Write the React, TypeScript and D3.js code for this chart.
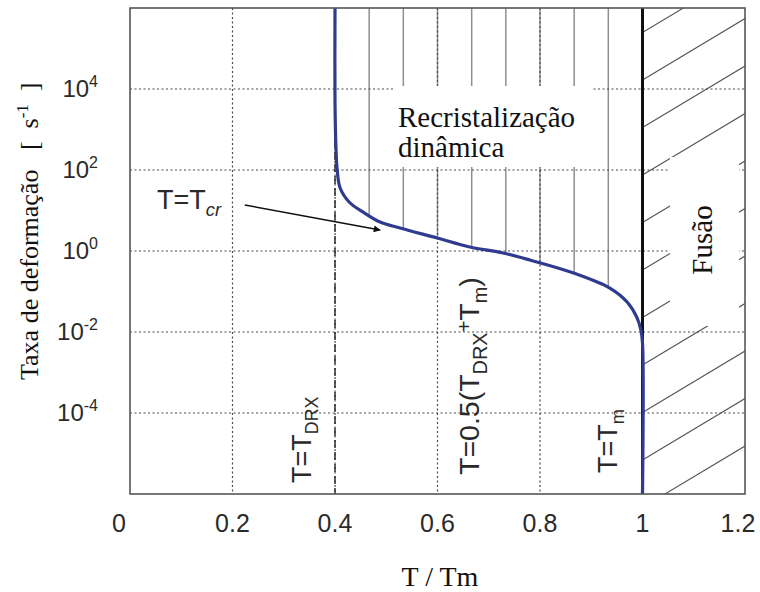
import React, { useEffect, useRef } from "react";
import * as d3 from "d3";

// x axis: T / Tm
const xTicks = [0, 0.2, 0.4, 0.6, 0.8, 1, 1.2];
const xTickLabels = ["0", "0.2", "0.4", "0.6", "0.8", "1", "1.2"];
const xGrid = [0.2, 0.4, 0.6, 0.8];

// y axis: strain rate, log scale
const yTicks = [1e-4, 1e-2, 1e0, 1e2, 1e4];
const yTickExponents = ["-4", "-2", "0", "2", "4"];

// T = Tcr curve
const curveT = [0.4, 0.4, 0.402, 0.404, 0.41, 0.428, 0.455, 0.488, 0.527, 0.599, 0.663, 0.728, 0.78, 0.864, 0.937, 0.97, 0.989, 0.997, 1.0, 1.0];
const curveRate = [1e6, 5000, 320, 110, 36, 16, 9.1, 5.2, 3.7, 2.1, 1.26, 0.89, 0.6, 0.29, 0.12, 0.055, 0.023, 0.011, 0.0054, 1e-6];

// boundaries
const tDRX = 0.4;
const tMelt = 1.0;

// vertical hatch in the dynamic recrystallisation zone
const drxHatchT = [0.4667, 0.5333, 0.6, 0.6667, 0.7333, 0.8, 0.8667, 0.9333];

// arrow pointing at the curve
const arrowFrom = { t: 0.224, rate: 13.7 };
const arrowTo = { t: 0.488, rate: 3.3 };

const W = 760, H = 592;
const sans = "'Liberation Sans', Arial, sans-serif";
const serif = "'Liberation Serif', 'Times New Roman', serif";
const nb = "\u00a0";

const App = () => {
  const ref = useRef<SVGSVGElement>(null);

  useEffect(() => {
    const svg = d3.select(ref.current);
    svg.selectAll("*").remove();

    const x = d3.scaleLinear().domain([0, 1.2]).range([130, 745]);
    const y = d3.scaleLog().domain([1e-6, 1e6]).range([494, 8]);
    const [x0, x1] = x.range();
    const [yb, yt] = y.range();

    svg.append("rect").attr("width", W).attr("height", H).attr("fill", "#fff");

    const defs = svg.append("defs");
    defs.append("marker")
      .attr("id", "arrowhead")
      .attr("viewBox", "0 0 10 10")
      .attr("refX", 9).attr("refY", 5)
      .attr("markerWidth", 10).attr("markerHeight", 7)
      .attr("markerUnits", "userSpaceOnUse")
      .attr("orient", "auto")
      .append("path").attr("d", "M0,0L10,5L0,10Z").attr("fill", "#111");

    const pts: [number, number][] = curveT.map((t, i) => [x(t), y(curveRate[i])]);
    const line = d3.line().curve(d3.curveCatmullRom.alpha(0.5));

    // region above the curve, for the vertical hatch
    defs.append("clipPath").attr("id", "drxClip")
      .append("path")
      .attr("d", line(pts) + `L${x(tMelt)},${yt}Z`);
    defs.append("clipPath").attr("id", "meltClip")
      .append("rect")
      .attr("x", x(tMelt)).attr("y", yt)
      .attr("width", x(1.2) - x(tMelt)).attr("height", yb - yt);

    // vertical hatch lines
    svg.append("g").attr("clip-path", "url(#drxClip)")
      .selectAll("line").data(drxHatchT).enter().append("line")
      .attr("x1", d => x(d)).attr("x2", d => x(d))
      .attr("y1", yt).attr("y2", yb)
      .attr("stroke", "#8f8f8f").attr("stroke-width", 1.5);

    // diagonal hatch in the melting zone
    const spacing = 47.5, slope = 0.6;
    const offsets = d3.range(-62.5, 600, spacing);
    svg.append("g").attr("clip-path", "url(#meltClip)")
      .selectAll("line").data(offsets).enter().append("line")
      .attr("x1", x(tMelt)).attr("y1", d => d)
      .attr("x2", x(1.2)).attr("y2", d => d - slope * (x(1.2) - x(tMelt)))
      .attr("stroke", "#555").attr("stroke-width", 1.1);

    // dotted grid
    const grid = svg.append("g")
      .attr("stroke", "#4a4a4a").attr("stroke-width", 1.2)
      .attr("stroke-dasharray", "2,2.5");
    grid.selectAll(".gx").data(xGrid).enter().append("line")
      .attr("x1", d => x(d)).attr("x2", d => x(d))
      .attr("y1", yt).attr("y2", yb);
    grid.selectAll(".gy").data(yTicks).enter().append("line")
      .attr("x1", x0).attr("x2", x1)
      .attr("y1", d => y(d)).attr("y2", d => y(d));

    // white boxes behind region labels
    svg.append("rect").attr("x", 395).attr("y", 86).attr("width", 197).attr("height", 81).attr("fill", "#fff");
    svg.append("rect").attr("x", 670).attr("y", 157).attr("width", 69).attr("height", 169).attr("fill", "#fff");

    // T = TDRX dashed line
    svg.append("line")
      .attr("x1", x(tDRX)).attr("x2", x(tDRX)).attr("y1", yt).attr("y2", yb)
      .attr("stroke", "#222").attr("stroke-width", 1.4).attr("stroke-dasharray", "8,4");

    // T = Tm
    svg.append("line")
      .attr("x1", x(tMelt)).attr("x2", x(tMelt)).attr("y1", yt).attr("y2", yb)
      .attr("stroke", "#111").attr("stroke-width", 3);

    // T = Tcr curve
    svg.append("path")
      .attr("d", line(pts))
      .attr("fill", "none")
      .attr("stroke", "#2e3b8e")
      .attr("stroke-width", 3.2);

    // frame
    svg.append("rect")
      .attr("x", x0).attr("y", yt).attr("width", x1 - x0).attr("height", yb - yt)
      .attr("fill", "none").attr("stroke", "#555").attr("stroke-width", 1.6);

    // x tick labels
    svg.append("g").selectAll("text").data(xTicks).enter().append("text")
      .attr("x", d => x(d))
      .attr("dx", (d, i) => (i === 0 ? -11 : i === xTicks.length - 1 ? -7 : 0))
      .attr("y", 532)
      .attr("text-anchor", "middle")
      .attr("font-family", sans).attr("font-size", 25).attr("fill", "#2a2a2a")
      .text((d, i) => xTickLabels[i]);

    // y tick labels: 10^n
    const yl = svg.append("g").selectAll("text").data(yTicks).enter().append("text")
      .attr("x", 98).attr("y", d => y(d) + 8)
      .attr("text-anchor", "end")
      .attr("font-family", sans).attr("font-size", 24).attr("fill", "#2a2a2a");
    yl.append("tspan").text("10");
    yl.append("tspan").attr("dy", -10).attr("font-size", 16).text((d, i) => yTickExponents[i]);

    // axis titles
    svg.append("text")
      .attr("x", 440).attr("y", 586)
      .attr("text-anchor", "middle")
      .attr("font-family", serif).attr("font-size", 28).attr("fill", "#111")
      .text("T / Tm");

    const yTitle = svg.append("text")
      .attr("transform", "translate(38,380) rotate(-90)")
      .attr("font-family", serif).attr("font-size", 26).attr("fill", "#111");
    yTitle.append("tspan").text(`Taxa de deformação${nb}${nb}${nb}[${nb}${nb}s`);
    yTitle.append("tspan").attr("dy", -10).attr("font-size", 17).text("-1");
    yTitle.append("tspan").attr("dy", 10).text(`${nb}${nb}]`);

    // region labels
    svg.append("text")
      .attr("x", 398).attr("y", 127)
      .attr("font-family", serif).attr("font-size", 29).attr("fill", "#111")
      .text("Recristalização");
    svg.append("text")
      .attr("x", 398).attr("y", 157)
      .attr("font-family", serif).attr("font-size", 29).attr("fill", "#111")
      .text("dinâmica");
    svg.append("text")
      .attr("transform", "translate(712,240) rotate(-90)")
      .attr("text-anchor", "middle")
      .attr("font-family", serif).attr("font-size", 29).attr("fill", "#111")
      .text("Fusão");

    // helper for labels with sub/superscripts: 0 normal, 1 sub, -1 sup
    const labelSub = (sel: any, parts: [string, number][], size: number, ratio: number) => {
      let level = 0;
      parts.forEach(([s, lv]) => {
        const shift = size * 0.27;
        const dy = (lv - level) * shift;
        level = lv;
        sel.append("tspan")
          .attr("dy", dy)
          .attr("font-size", lv !== 0 ? size * ratio : size)
          .text(s);
      });
    };

    const tcr = svg.append("text")
      .attr("x", 157).attr("y", 209)
      .attr("font-family", sans).attr("font-size", 27).attr("fill", "#2a2a2a");
    labelSub(tcr, [["T=T", 0], ["cr", 1]], 27, 0.68);
    tcr.selectAll("tspan").filter((d, i) => i === 1).attr("font-style", "italic");

    svg.append("line")
      .attr("x1", x(arrowFrom.t)).attr("y1", y(arrowFrom.rate))
      .attr("x2", x(arrowTo.t)).attr("y2", y(arrowTo.rate))
      .attr("stroke", "#111").attr("stroke-width", 1.5)
      .attr("marker-end", "url(#arrowhead)");

    const tdrx = svg.append("text")
      .attr("transform", "translate(311,483) rotate(-90)")
      .attr("font-family", sans).attr("font-size", 27).attr("fill", "#2a2a2a");
    labelSub(tdrx, [["T=T", 0], ["DRX", 1]], 27, 0.66);

    const tmid = svg.append("text")
      .attr("transform", "translate(479,475) rotate(-90)")
      .attr("font-family", sans).attr("font-size", 28.5).attr("fill", "#2a2a2a");
    labelSub(tmid, [["T=0.5(T", 0], ["DRX", 1], ["+", -1], ["T", 0], ["m", 1], [")", 0]], 28.5, 0.7);

    const tm = svg.append("text")
      .attr("transform", "translate(617,473) rotate(-90)")
      .attr("font-family", sans).attr("font-size", 27).attr("fill", "#2a2a2a");
    labelSub(tm, [["T=T", 0], ["m", 1]], 27, 0.68);
  }, []);

  return (
    <svg
      ref={ref}
      width={W}
      height={H}
      style={{ position: "absolute", left: 0, top: 0, display: "block" }}
    />
  );
};

export default App;
